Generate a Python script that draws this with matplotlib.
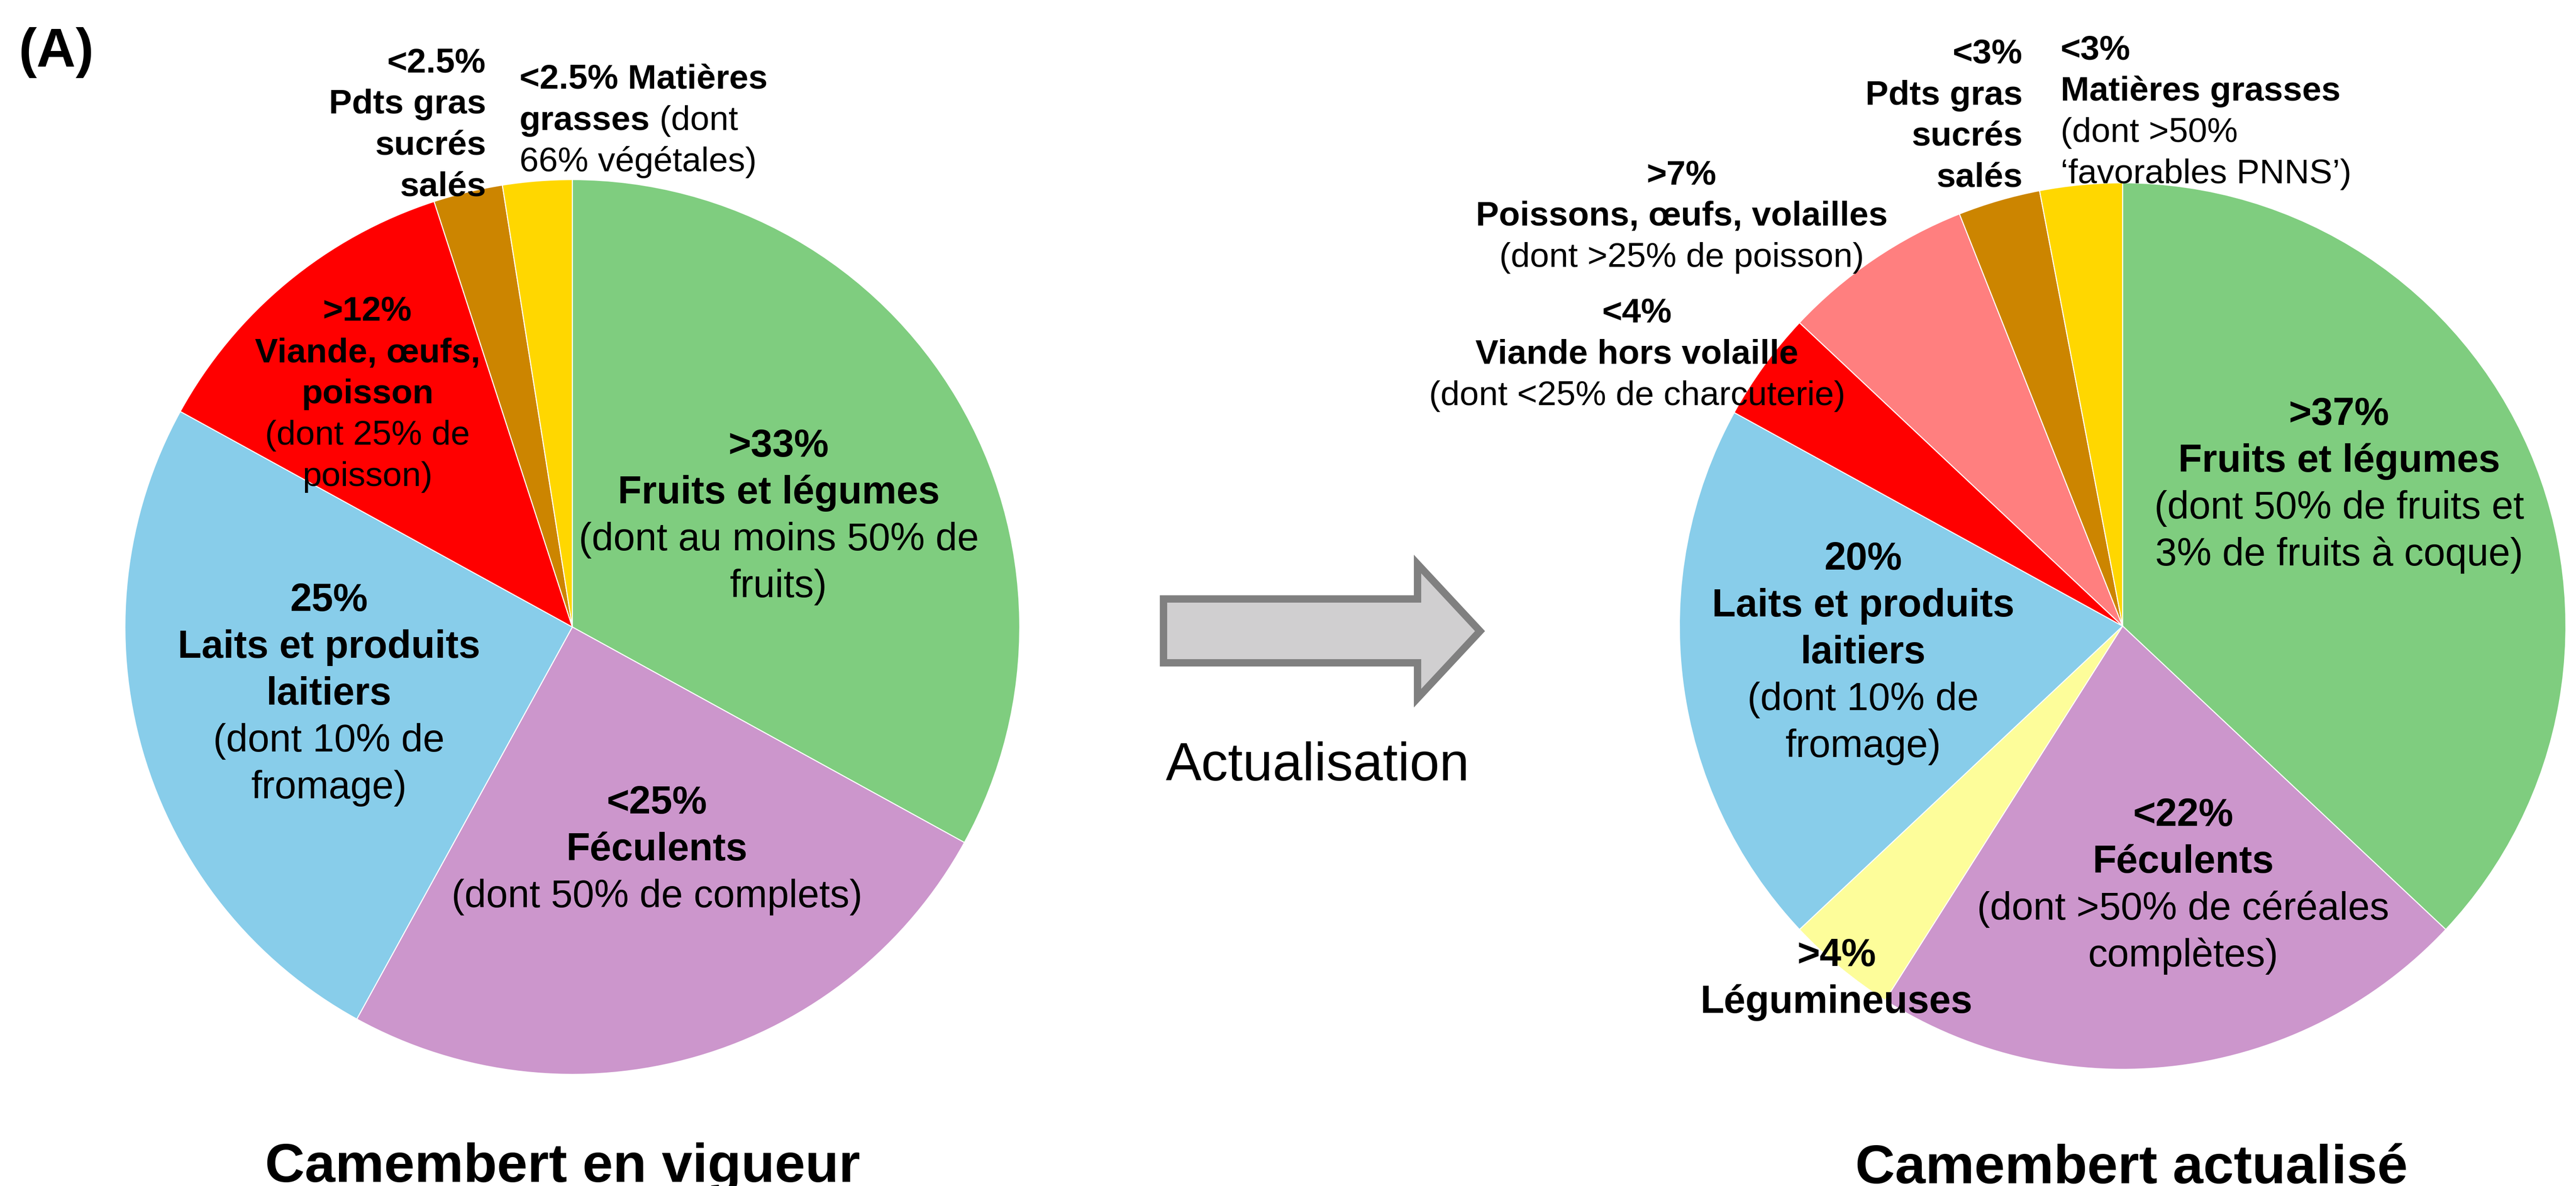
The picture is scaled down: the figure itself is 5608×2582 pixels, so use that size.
import matplotlib
matplotlib.use('Agg')
import matplotlib.pyplot as plt
from matplotlib.patches import Polygon

W, H = 5608, 2582
DPI = 100
FONT = 'Liberation Sans'

# ---------------- data ----------------
old_categories = ['Fruits et légumes', 'Féculents', 'Laits et produits laitiers',
                  'Viande, œufs, poisson', 'Pdts gras sucrés salés', 'Matières grasses']
old_values = [33, 25, 25, 12, 2.5, 2.5]
old_colors = ['#7FCD7F', '#CC96CC', '#88CDEA', '#FF0000', '#CC8500', '#FFD700']

new_categories = ['Fruits et légumes', 'Féculents', 'Légumineuses', 'Laits et produits laitiers',
                  'Viande hors volaille', 'Poissons, œufs, volailles',
                  'Pdts gras sucrés salés', 'Matières grasses']
new_values = [37, 22, 4, 20, 4, 7, 3, 3]
new_colors = ['#7FCD7F', '#CC96CC', '#FDFD9A', '#88CDEA', '#FF0000', '#FF7F7F', '#CC8500', '#FFD700']

B, R = True, False
old_labels = [
    [[('>33%', B)], [('Fruits et légumes', B)], [('(dont au moins 50% de', R)], [('fruits)', R)]],
    [[('<25%', B)], [('Féculents', B)], [('(dont 50% de complets)', R)]],
    [[('25%', B)], [('Laits et produits', B)], [('laitiers', B)], [('(dont 10% de', R)], [('fromage)', R)]],
    [[('>12%', B)], [('Viande, œufs,', B)], [('poisson', B)], [('(dont 25% de', R)], [('poisson)', R)]],
    [[('<2.5%', B)], [('Pdts gras', B)], [('sucrés', B)], [('salés', B)]],
    [[('<2.5% Matières', B)], [('grasses', B), (' (dont', R)], [('66% végétales)', R)]],
]
new_labels = [
    [[('>37%', B)], [('Fruits et légumes', B)], [('(dont 50% de fruits et', R)], [('3% de fruits à coque)', R)]],
    [[('<22%', B)], [('Féculents', B)], [('(dont >50% de céréales', R)], [('complètes)', R)]],
    [[('>4%', B)], [('Légumineuses', B)]],
    [[('20%', B)], [('Laits et produits', B)], [('laitiers', B)], [('(dont 10% de', R)], [('fromage)', R)]],
    [[('<4%', B)], [('Viande hors volaille', B)], [('(dont <25% de charcuterie)', R)]],
    [[('>7%', B)], [('Poissons, œufs, volailles', B)], [('(dont >25% de poisson)', R)]],
    [[('<3%', B)], [('Pdts gras', B)], [('sucrés', B)], [('salés', B)]],
    [[('<3%', B)], [('Matières grasses', B)], [('(dont >50%', R)], [('‘favorables PNNS’)', R)]],
]
titles = ['Camembert en vigueur', 'Camembert actualisé']
arrow_text = 'Actualisation'
panel_tag = '(A)'

# ---------------- layout (pixel coordinates, y downward) ----------------
LARGE, SMALL = 61, 54
PL, PS = 102, 90
old_pie = dict(center=(1246, 1365), radius=974)
new_pie = dict(center=(4621, 1363), radius=965)
# (x, first baseline y, ha, fontsize, pitch)
old_layout = [
    (1695, 994, 'center', LARGE, PL),
    (1430, 1771, 'center', LARGE, PL),
    (716, 1330, 'center', LARGE, PL),
    (800, 698, 'center', SMALL, PS),
    (1058, 157, 'right', SMALL, PS),
    (1131, 193, 'left', SMALL, PS),
]
new_layout = [
    (5092, 925, 'center', LARGE, PL),
    (4753, 1798, 'center', LARGE, PL),
    (3998, 2103, 'center', LARGE, PL),
    (4056, 1240, 'center', LARGE, PL),
    (3564, 702, 'center', SMALL, PS),
    (3661, 401, 'center', SMALL, PS),
    (4403, 138, 'right', SMALL, PS),
    (4486, 129, 'left', SMALL, PS),
]

fig = plt.figure(figsize=(W / DPI, H / DPI), dpi=DPI)
fig.patch.set_facecolor('white')
ax = fig.add_axes([0, 0, 1, 1])

wp = dict(edgecolor='white', linewidth=1.6)
ax.pie(old_values, colors=old_colors, startangle=90, counterclock=False,
       center=(old_pie['center'][0], H - old_pie['center'][1]), radius=old_pie['radius'],
       wedgeprops=wp, frame=False)
ax.pie(new_values, colors=new_colors, startangle=90, counterclock=False,
       center=(new_pie['center'][0], H - new_pie['center'][1]), radius=new_pie['radius'],
       wedgeprops=wp, frame=False)
ax.set_xlim(0, W)
ax.set_ylim(0, H)
ax.set_aspect('equal', adjustable='box')
ax.axis('off')

renderer = fig.canvas.get_renderer()


def draw_block(lines, x, y0, ha, fs, pitch):
    for i, segs in enumerate(lines):
        y = H - (y0 + i * pitch)
        if len(segs) == 1:
            txt, bold = segs[0]
            ax.text(x, y, txt, ha=ha, va='baseline', fontsize=fs,
                    fontweight='bold' if bold else 'normal', family=FONT)
        else:
            objs = []
            widths = []
            for txt, bold in segs:
                t = ax.text(0, y, txt, ha='left', va='baseline', fontsize=fs,
                            fontweight='bold' if bold else 'normal', family=FONT)
                objs.append(t)
                widths.append(t.get_window_extent(renderer).width)
            total = sum(widths)
            start = x if ha == 'left' else (x - total if ha == 'right' else x - total / 2)
            for t, w in zip(objs, widths):
                t.set_x(start)
                start += w


for lines, (x, y0, ha, fs, p) in zip(old_labels, old_layout):
    draw_block(lines, x, y0, ha, fs, p)
for lines, (x, y0, ha, fs, p) in zip(new_labels, new_layout):
    draw_block(lines, x, y0, ha, fs, p)

# arrow
arrow_pts = [(2533, 1304), (3086, 1304), (3086, 1228), (3222, 1374),
             (3086, 1520), (3086, 1443), (2533, 1443)]
ax.add_patch(Polygon([(px, H - py) for px, py in arrow_pts], closed=True,
                     facecolor='#D0CFD0', edgecolor='#808080', linewidth=11.5,
                     joinstyle='miter'))
ax.text(2869, H - 1699, arrow_text, ha='center', va='baseline', fontsize=84, family=FONT)

# titles
ax.text(1225, H - 2573, titles[0], ha='center', va='baseline', fontsize=86,
        fontweight='bold', family=FONT)
ax.text(4640, H - 2576, titles[1], ha='center', va='baseline', fontsize=86,
        fontweight='bold', family=FONT)
ax.text(40, H - 145, panel_tag, ha='left', va='baseline', fontsize=85,
        fontweight='bold', family=FONT)

fig.savefig('out.png', dpi=DPI, facecolor='white')
